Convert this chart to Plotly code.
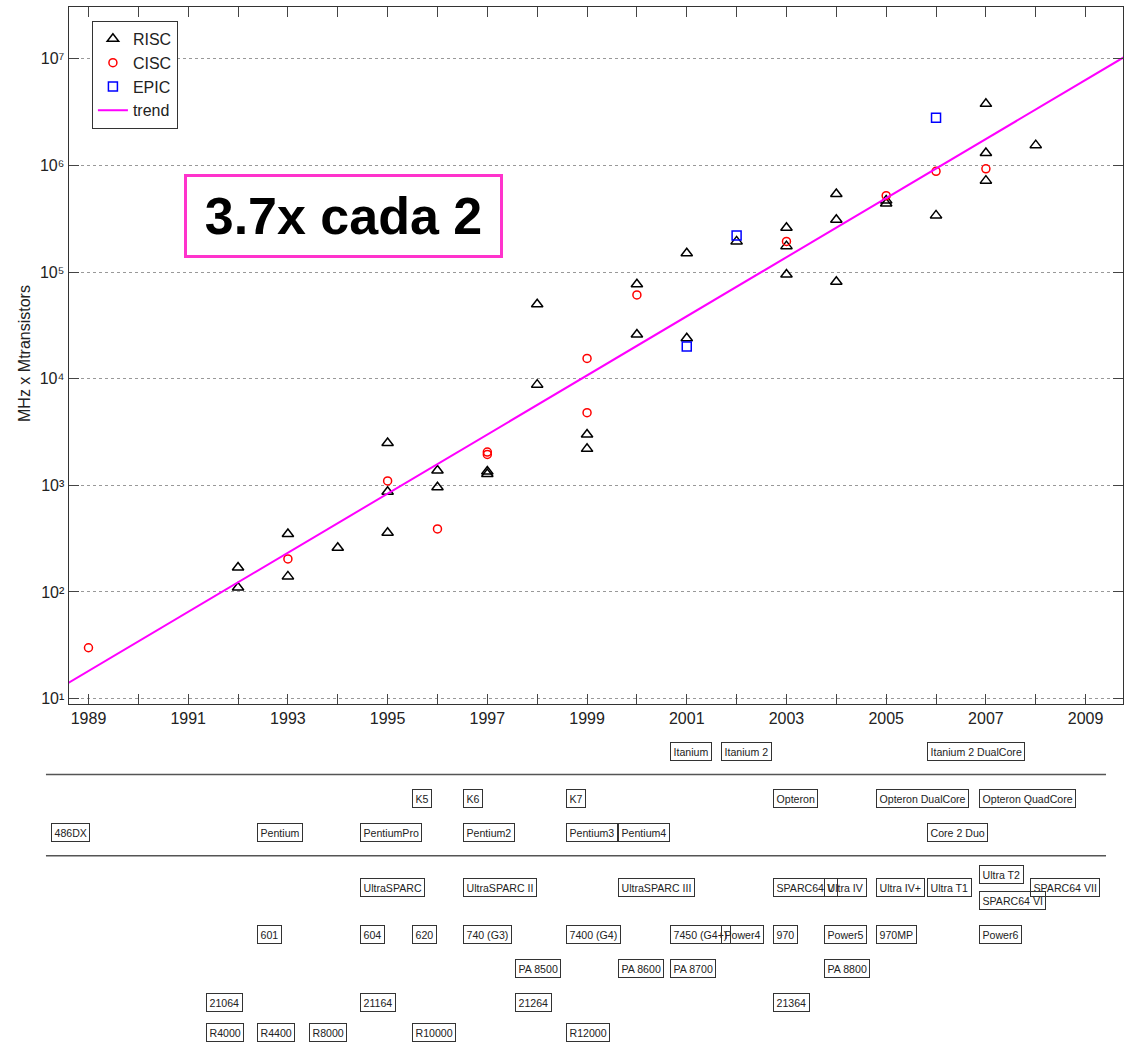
import plotly.graph_objects as go

# ---------------- data ----------------
risc_years = [1992, 1992, 1993, 1993, 1994, 1995, 1995, 1995, 1996, 1996, 1997, 1997,
              1998, 1998, 1999, 1999, 2000, 2000, 2001, 2001, 2002, 2003, 2003, 2003,
              2004, 2004, 2004, 2005, 2005, 2006, 2007, 2007, 2007, 2008]
risc_vals = [170, 110, 350, 140, 260, 2500, 870, 360, 1380, 960, 1350, 1280,
             8800, 50000, 3000, 2200, 77000, 26000, 150000, 24000, 194000, 260000, 175000, 95000,
             540000, 310000, 81000, 440000, 470000, 340000, 3780000, 1310000, 720000, 1550000]

cisc_years = [1989, 1993, 1995, 1996, 1997, 1997, 1999, 1999, 2000, 2003, 2005, 2006, 2007]
cisc_vals = [30, 204, 1100, 390, 1950, 2050, 15500, 4800, 61000, 194000, 520000, 880000, 930000]

epic_years = [2001, 2002, 2006]
epic_vals = [20000, 220000, 2800000]

trend_years = [1988.4, 2010.0]
trend_vals = [12.4, 1.2e7]

y_tick_vals = [1e1, 1e2, 1e3, 1e4, 1e5, 1e6, 1e7]
y_tick_text = ["10¹", "10²", "10³", "10⁴", "10⁵", "10⁶", "10⁷"]

# processor labels (year, name) per family row
row_epic = [(2001, "Itanium"), (2002, "Itanium 2"), (2006, "Itanium 2 DualCore")]
row_amd = [(1996, "K5"), (1997, "K6"), (1999, "K7"), (2003, "Opteron"),
           (2005, "Opteron DualCore"), (2007, "Opteron QuadCore")]
row_intel = [(1989, "486DX"), (1993, "Pentium"), (1995, "PentiumPro"), (1997, "Pentium2"),
             (1999, "Pentium3"), (2000, "Pentium4"), (2006, "Core 2 Duo")]
row_sparc = [(1995, "UltraSPARC"), (1997, "UltraSPARC II"), (2000, "UltraSPARC III"),
             (2003, "SPARC64 V"), (2004, "Ultra IV"), (2005, "Ultra IV+"), (2006, "Ultra T1"),
             (2008, "SPARC64 VII")]
row_sparc_hi = [(2007, "Ultra T2")]
row_sparc_lo = [(2007, "SPARC64 VI")]
row_power = [(1993, "601"), (1995, "604"), (1996, "620"), (1997, "740 (G3)"), (1999, "7400 (G4)"),
             (2001, "7450 (G4+)"), (2002, "Power4"), (2003, "970"), (2004, "Power5"),
             (2005, "970MP"), (2007, "Power6")]
row_pa = [(1998, "PA 8500"), (2000, "PA 8600"), (2001, "PA 8700"), (2004, "PA 8800")]
row_alpha = [(1992, "21064"), (1995, "21164"), (1998, "21264"), (2003, "21364")]
row_mips = [(1992, "R4000"), (1993, "R4400"), (1994, "R8000"), (1996, "R10000"), (1999, "R12000")]

# ---------------- figure ----------------
W, H = 1124, 1044
FONT = "Arial, Liberation Sans, sans-serif"

def py(px):
    return 1 - px / H

fig = go.Figure()
fig.add_trace(go.Scatter(x=risc_years, y=risc_vals, mode="markers", name="RISC",
                         marker=dict(symbol="triangle-up-open", size=10, color="black",
                                     line=dict(width=1.5, color="black"))))
fig.add_trace(go.Scatter(x=cisc_years, y=cisc_vals, mode="markers", name="CISC",
                         marker=dict(symbol="circle-open", size=8, color="red",
                                     line=dict(width=1.5, color="red"))))
fig.add_trace(go.Scatter(x=epic_years, y=epic_vals, mode="markers", name="EPIC",
                         marker=dict(symbol="square-open", size=9, color="blue",
                                     line=dict(width=1.5, color="blue"))))
fig.add_trace(go.Scatter(x=trend_years, y=trend_vals, mode="lines", name="trend",
                         line=dict(color="#ff00ff", width=2)))
# helper subplot for the processor label strip
fig.add_trace(go.Scatter(x=[1995], y=[0], xaxis="x2", yaxis="y2", mode="markers",
                         marker=dict(opacity=0), showlegend=False, hoverinfo="skip"))

tickfont = dict(family=FONT, size=16, color="#222")
fig.update_layout(
    width=W, height=H,
    margin=dict(l=0, r=0, t=0, b=0),
    paper_bgcolor="white", plot_bgcolor="white",
    showlegend=True,
    legend=dict(x=92 / W, y=py(21), xanchor="left", yanchor="top",
                bgcolor="white", bordercolor="#333", borderwidth=1,
                font=dict(family=FONT, size=16, color="#222"),
                tracegroupgap=0, itemwidth=30),
    xaxis=dict(domain=[68.6 / W, 1], range=[1988.6, 2009.75],
               tickmode="linear", tick0=1989, dtick=2,
               minor=dict(dtick=1, tick0=1989, ticks="inside", ticklen=10,
                          tickcolor="#444", tickwidth=1, showgrid=False),
               ticks="inside", ticklen=10, tickcolor="#444", tickwidth=1,
               showline=True, linecolor="#333", linewidth=1, mirror="ticks",
               showgrid=False, zeroline=False, tickfont=tickfont, anchor="y"),
    yaxis=dict(domain=[py(706), py(7.3)], type="log", range=[0.950, 7.483],
               tickvals=y_tick_vals, ticktext=y_tick_text,
               ticks="inside", ticklen=10, tickcolor="#444", tickwidth=1,
               showline=True, linecolor="#333", linewidth=1, mirror="ticks",
               showgrid=True, gridcolor="#999", griddash="dot", gridwidth=1,
               zeroline=False, tickfont=tickfont, anchor="x"),
    xaxis2=dict(domain=[0, 1], range=[1988.012, 2009.795], visible=False, anchor="y2"),
    yaxis2=dict(domain=[0, 0.25], range=[0, 1], visible=False, anchor="x2"),
)

annotations = []
# y axis title
annotations.append(dict(text="MHz x Mtransistors", x=25 / W, y=py(354), xref="paper", yref="paper",
                        showarrow=False, textangle=-90, xanchor="center", yanchor="middle",
                        font=dict(family=FONT, size=16, color="#222")))
# big boxed caption
annotations.append(dict(text="<b>3.7x cada 2</b>", x=343.5 / W, y=py(217), xref="paper", yref="paper",
                        showarrow=False, xanchor="center", yanchor="middle",
                        font=dict(family=FONT, size=52, color="black"),
                        bordercolor="#ff33cc", borderwidth=3, borderpad=4,
                        width=305, height=70, bgcolor="white"))

rows = [(row_epic, 754), (row_amd, 801), (row_intel, 835), (row_sparc, 890),
        (row_sparc_hi, 877), (row_sparc_lo, 903), (row_power, 937), (row_pa, 971),
        (row_alpha, 1005), (row_mips, 1035)]
for items, ypx in rows:
    for year, name in items:
        annotations.append(dict(text=name, x=year, y=py(ypx), xref="x2", yref="paper",
                                showarrow=False, xanchor="left", yanchor="middle",
                                font=dict(family=FONT, size=10.6, color="#222"),
                                bordercolor="#333", borderwidth=1, borderpad=2.5))
fig.update_layout(annotations=annotations)

# separator lines in the label strip
for ypx in (776.7, 858.3):
    fig.add_shape(type="line", xref="paper", yref="paper", x0=46 / W, x1=1107 / W,
                  y0=py(ypx), y1=py(ypx), line=dict(color="#555", width=1.5))

fig.write_html("out.html")
